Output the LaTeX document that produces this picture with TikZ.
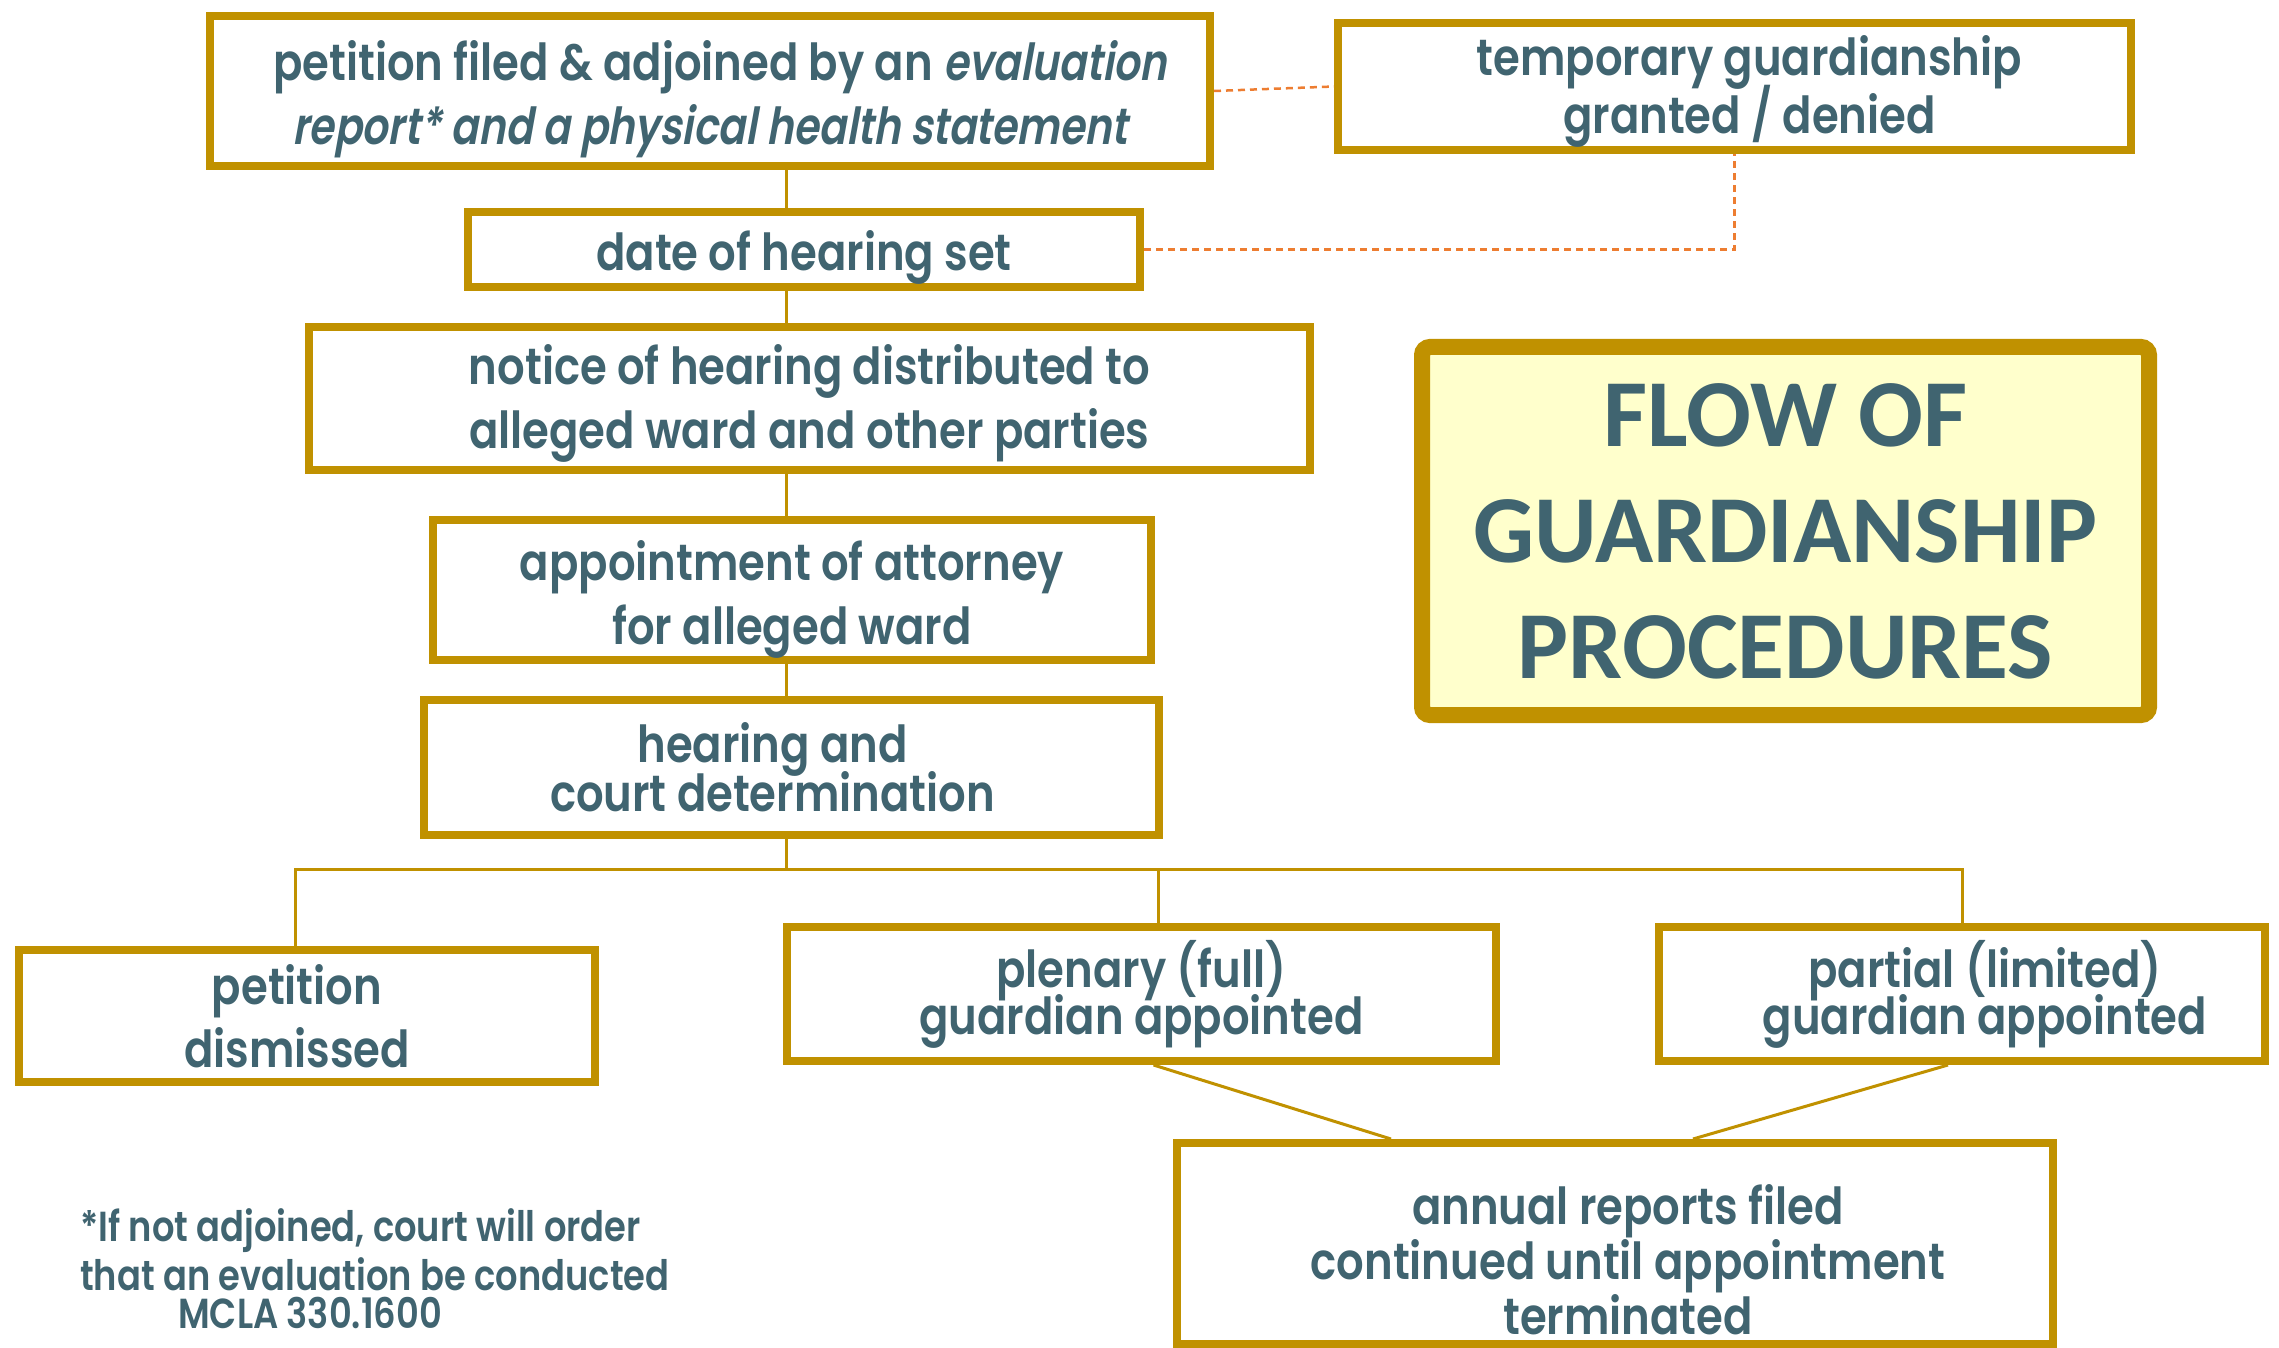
\documentclass[tikz,border=0pt]{standalone}
\usepackage{fontspec}
\usetikzlibrary{calc}
\newfontfamily\bodyf{Poppins SemiBold}[FakeStretch=0.85]
\newfontfamily\bodyit{Poppins SemiBold}[FakeStretch=0.8,FakeSlant=0.18]
\newfontfamily\notef{Poppins SemiBold}[FakeStretch=0.84]
\newfontfamily\titlef{Carlito Bold}
\newcommand{\lift}[1]{\rule{0pt}{#1}}
\newcommand{\pad}[1]{\hspace*{#1}}
\setlength{\lineskiplimit}{-100pt}
\definecolor{gold}{RGB}{192,145,0}
\definecolor{txt}{RGB}{64,100,112}
\definecolor{pale}{RGB}{255,255,204}
\definecolor{orng}{RGB}{237,125,49}
\tikzset{
  bodysize/.style={font=\bodyf\fontsize{51}{#1}\selectfont},
  box/.style={draw=gold, line width=8pt, fill=white, text=txt, align=center,
    inner sep=0pt, bodysize=64},
  conn/.style={draw=gold, line width=3pt},
  dashconn/.style={draw=orng, line width=2.5pt, dash pattern=on 7pt off 5pt},
  titlebox/.style={draw=gold, line width=16pt, fill=pale, rounded corners=8pt, text=txt,
    align=center, inner sep=0pt, font=\titlef\fontsize{96}{116}\selectfont},
  note/.style={text=txt, align=left, inner sep=0pt, font=\notef\fontsize{42}{49}\selectfont}
}
\begin{document}
\begin{tikzpicture}[x=1pt,y=-1pt]
\useasboundingbox (0,0) rectangle (2279,1348);
\coordinate (spine) at (786,0);
\coordinate (br) at (786,869);

\node[box, minimum width=1000pt, minimum height=150pt] (petition) at (710,91)
  {\lift{56pt}\pad{20pt}petition filed \& adjoined by an {\bodyit evaluation}\\{\bodyit report* and a physical health statement}};
\node[box, minimum width=793pt, minimum height=127pt, bodysize=58] (temp) at (1734.5,86.5)
  {\lift{50pt}\pad{30pt}temporary guardianship\\\pad{30pt}granted / denied};
\node[box, minimum width=672pt, minimum height=75pt] (date) at (804,249.5)
  {\lift{56pt}date of hearing set};
\node[box, minimum width=1001pt, minimum height=143pt] (notice) at (809.5,398.5)
  {\lift{50pt}notice of hearing distributed to\\alleged ward and other parties};
\node[box, minimum width=718pt, minimum height=140pt] (attorney) at (792,590)
  {\lift{58pt}appointment of attorney\\for alleged ward};
\node[box, minimum width=735pt, minimum height=135pt, bodysize=49] (hearing) at (791.5,767.5)
  {hearing and\pad{38pt}\\court determination\pad{38pt}};
\node[box, minimum width=576pt, minimum height=132pt, bodysize=63] (dismissed) at (307,1016)
  {petition\pad{20pt}\\dismissed\pad{20pt}};
\node[box, minimum width=709pt, minimum height=134pt, bodysize=47] (plenary) at (1141.5,994)
  {plenary (full)\\guardian appointed};
\node[box, minimum width=606pt, minimum height=134pt, bodysize=47] (partial) at (1962,994)
  {\pad{46pt}partial (limited)\\\pad{46pt}guardian appointed};
\node[box, minimum width=876pt, minimum height=201pt, bodysize=55] (annual) at (1615,1243.5)
  {\lift{72pt}\pad{26pt}annual reports filed\\\pad{26pt}continued until appointment\\\pad{26pt}terminated};
\node[titlebox, minimum width=727pt, minimum height=368pt] (title) at (1785.5,531)
  {FLOW OF\\GUARDIANSHIP\\PROCEDURES};
\node[note, anchor=north west] (fn) at (80,1208)
  {*If not adjoined, court will order\\that an evaluation be conducted\\[-11pt]\hspace*{98pt}MCLA 330.1600};

% spine
\draw[conn] (petition.south -| spine) -- (date.north -| spine);
\draw[conn] (date.south -| spine) -- (notice.north -| spine);
\draw[conn] (notice.south -| spine) -- (attorney.north -| spine);
\draw[conn] (attorney.south -| spine) -- (hearing.north -| spine);
\draw[conn] (hearing.south -| spine) -- (br);
% branches
\draw[conn] ([xshift=-12pt]dismissed.north) |- (br) -| (partial.north);
\draw[conn] ([xshift=17pt]plenary.north) -- ([xshift=17pt]plenary.north |- br);
% to annual
\draw[conn] ([xshift=12pt]plenary.south) -- ([xshift=-224pt]annual.north);
\draw[conn] ([xshift=-14pt]partial.south) -- ([xshift=78pt]annual.north);
% dashed
\draw[dashconn] (petition.east) -- (temp.west);
\draw[dashconn] (date.east) -| (temp.south);
\end{tikzpicture}
\end{document}
